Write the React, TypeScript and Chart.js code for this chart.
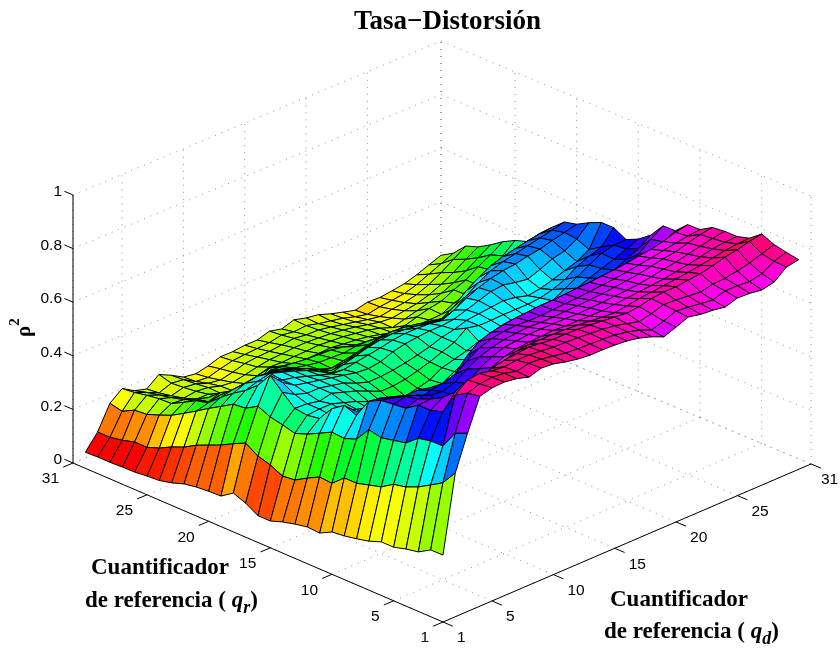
import React, { useEffect, useRef } from "react";
import { Chart, registerables } from "chart.js";

Chart.register(...registerables);

// rho^2: one list per q_r, values for q_d = 1..30
const qr1 = [.25,.536,.665,.783,.795,.797,.79,.776,.79,.786,.774,.765,.76,.76,.758,.754,.745,.73,.71,.727,.745,.735,.731,.723,.737,.735,.728,.738,.774,.782];
const qr2 = [.249,.48,.645,.775,.79,.795,.79,.778,.788,.785,.776,.768,.764,.762,.76,.756,.748,.735,.716,.73,.748,.742,.736,.73,.744,.744,.74,.75,.776,.79];
const qr3 = [.222,.452,.578,.748,.785,.79,.78,.775,.78,.78,.775,.77,.768,.766,.762,.758,.752,.74,.728,.738,.752,.75,.745,.74,.75,.752,.76,.77,.785,.8];
const qr4 = [.213,.425,.577,.665,.72,.73,.735,.75,.76,.765,.77,.765,.76,.76,.758,.755,.75,.745,.74,.745,.755,.76,.76,.765,.77,.78,.792,.8,.812,.82];
const qr5 = [.2,.405,.567,.652,.68,.675,.67,.68,.7,.72,.735,.74,.74,.74,.738,.735,.73,.725,.722,.728,.736,.74,.745,.75,.755,.762,.77,.778,.783,.785];
const qr6 = [.2,.395,.53,.651,.655,.63,.62,.63,.65,.675,.695,.705,.71,.712,.715,.712,.712,.71,.71,.714,.718,.722,.726,.73,.738,.745,.755,.765,.77,.772];
const qr7 = [.183,.366,.52,.62,.635,.6,.575,.585,.615,.65,.675,.69,.695,.7,.7,.7,.7,.698,.7,.702,.705,.708,.712,.72,.728,.735,.745,.755,.765,.772];
const qr8 = [.172,.353,.51,.615,.625,.61,.59,.585,.6,.63,.655,.67,.68,.685,.688,.686,.686,.688,.69,.692,.695,.7,.705,.71,.72,.728,.735,.748,.76,.767];
const qr9 = [.163,.34,.52,.61,.6,.585,.55,.57,.575,.59,.62,.65,.665,.672,.675,.672,.672,.675,.678,.68,.684,.688,.692,.698,.705,.712,.72,.728,.735,.74];
const qr10 = [.158,.34,.465,.587,.58,.565,.55,.55,.54,.53,.55,.6,.635,.65,.66,.665,.668,.672,.672,.675,.678,.68,.684,.688,.692,.7,.705,.715,.73,.739];
const qr11 = [.134,.3,.448,.515,.525,.5,.48,.46,.44,.43,.44,.47,.52,.55,.57,.58,.585,.59,.595,.598,.6,.605,.61,.615,.622,.63,.64,.655,.675,.697];
const qr12 = [.137,.304,.452,.532,.49,.46,.44,.42,.4,.385,.38,.39,.41,.45,.48,.495,.505,.51,.515,.52,.525,.53,.54,.55,.565,.58,.6,.63,.665,.696];
const qr13 = [.128,.28,.428,.5,.455,.425,.405,.388,.372,.358,.35,.352,.36,.38,.41,.44,.465,.48,.49,.494,.5,.51,.522,.535,.548,.558,.57,.59,.612,.642];
const qr14 = [.116,.253,.405,.444,.435,.43,.42,.405,.385,.362,.355,.362,.372,.38,.405,.43,.45,.46,.465,.468,.466,.47,.482,.5,.522,.54,.556,.572,.59,.608];
const qr15 = [.1,.248,.388,.436,.44,.44,.425,.41,.39,.37,.35,.352,.362,.374,.4,.412,.424,.44,.45,.452,.45,.452,.46,.475,.5,.525,.55,.574,.585,.587];
const qr16 = [.1,.27,.4,.442,.44,.43,.44,.425,.41,.39,.37,.37,.376,.388,.402,.42,.436,.47,.46,.46,.462,.462,.462,.466,.478,.496,.525,.545,.56,.612];
const qr17 = [.127,.283,.41,.482,.455,.44,.44,.43,.42,.40,.385,.386,.39,.398,.408,.42,.436,.445,.46,.465,.47,.475,.468,.455,.462,.475,.49,.505,.53,.612];
const qr18 = [.145,.312,.43,.526,.48,.45,.44,.43,.42,.41,.40,.396,.402,.42,.43,.436,.44,.44,.445,.46,.475,.49,.495,.485,.478,.495,.515,.525,.55,.592];
const qr19 = [.114,.29,.403,.469,.47,.45,.44,.425,.41,.395,.392,.4,.408,.415,.425,.43,.43,.428,.42,.44,.465,.485,.5,.51,.515,.525,.532,.545,.555,.567];
const qr20 = [.112,.265,.398,.43,.445,.455,.44,.425,.408,.385,.36,.372,.385,.398,.406,.41,.406,.4,.392,.385,.4,.435,.465,.49,.505,.515,.525,.535,.545,.556];
const qr21 = [.108,.245,.37,.4,.418,.425,.42,.405,.392,.376,.352,.33,.34,.352,.364,.374,.38,.376,.368,.358,.35,.375,.415,.445,.47,.485,.495,.505,.512,.517];
const qr22 = [.1,.225,.343,.365,.375,.38,.378,.38,.372,.355,.335,.315,.3,.308,.318,.33,.338,.34,.328,.32,.316,.31,.322,.345,.365,.39,.415,.44,.46,.475];
const qr23 = [.084,.198,.313,.325,.335,.33,.322,.336,.345,.335,.32,.31,.302,.3,.298,.304,.304,.302,.3,.292,.282,.272,.265,.29,.312,.33,.35,.372,.398,.425];
const qr24 = [.073,.179,.285,.313,.29,.305,.278,.252,.28,.31,.305,.3,.295,.292,.29,.282,.27,.262,.256,.25,.246,.246,.248,.25,.272,.285,.3,.338,.372,.41];
const qr25 = [.07,.155,.258,.287,.28,.266,.25,.228,.224,.25,.28,.268,.258,.256,.258,.26,.254,.25,.243,.232,.22,.226,.24,.252,.26,.283,.301,.331,.356,.386];
const qr26 = [.065,.138,.239,.263,.258,.24,.24,.224,.214,.222,.232,.245,.243,.246,.247,.25,.246,.243,.236,.229,.217,.2,.212,.224,.236,.251,.271,.296,.326,.355];
const qr27 = [.064,.138,.222,.261,.246,.225,.231,.226,.212,.207,.216,.226,.234,.236,.24,.241,.238,.235,.229,.221,.211,.201,.197,.205,.212,.226,.246,.271,.301,.328];
const qr28 = [.062,.125,.218,.254,.236,.214,.226,.22,.203,.196,.206,.219,.224,.226,.231,.236,.23,.229,.221,.211,.201,.191,.183,.191,.197,.207,.226,.251,.281,.312];
const qr29 = [.062,.116,.194,.245,.226,.205,.222,.216,.19,.186,.199,.21,.214,.217,.22,.229,.222,.226,.214,.205,.196,.182,.172,.181,.186,.192,.206,.226,.246,.266];
const qr30 = [.06,.116,.204,.24,.213,.2,.235,.213,.187,.18,.19,.205,.205,.21,.21,.224,.213,.228,.216,.209,.193,.18,.168,.179,.177,.183,.19,.204,.222,.239];

const surface = [qr1,qr2,qr3,qr4,qr5,qr6,qr7,qr8,qr9,qr10,qr11,qr12,qr13,qr14,qr15,qr16,qr17,qr18,qr19,qr20,qr21,qr22,qr23,qr24,qr25,qr26,qr27,qr28,qr29,qr30];

const qTicks = [1, 5, 10, 15, 20, 25, 31];
const rhoTicks = [0, 0.2, 0.4, 0.6, 0.8, 1];
const rhoTickLabels = ["0", "0.2", "0.4", "0.6", "0.8", "1"];
const chartTitle = "Tasa\u2212Distorsi\u00f3n";

const SANS = "'Liberation Sans', Arial, sans-serif";
const SERIF = "'Liberation Serif', 'Times New Roman', serif";
const RHO_MIN = 0.06;
const RHO_MAX = 0.84;

// Fixed orthographic view of the box (q_r, q_d, rho^2) on to the chart's x/y scales.
function project(qr: number, qd: number, rho: number) {
  const u = (qr - 1) / 30;
  const v = (qd - 1) / 30;
  return {
    x: 443 - 370 * u + 368 * v,
    y: 622 - 159 * u - 158 * v + 4 * u * v - 268 * rho,
  };
}

function hsvColour(rho: number) {
  const t = Math.min(1, Math.max(0, (rho - RHO_MIN) / (RHO_MAX - RHO_MIN)));
  return `hsl(${Math.round(t * 63) * (360 / 64)}, 100%, 50%)`;
}

function lineSet(points: { x: number; y: number }[], colour: string, width: number, dash: number[] = []) {
  return {
    data: points,
    showLine: true,
    pointRadius: 0,
    borderColor: colour,
    borderWidth: width,
    borderDash: dash,
    fill: false,
    clip: false,
    tension: 0,
  } as any;
}

function buildDatasets() {
  const axes: any[] = [];
  axes.push(lineSet([project(31, 1, 0), project(1, 1, 0)], "#000", 1));
  axes.push(lineSet([project(1, 1, 0), project(1, 31, 0)], "#000", 1));
  axes.push(lineSet([project(31, 1, 0), project(31, 1, 1)], "#000", 1));
  for (const q of qTicks) {
    axes.push(lineSet([project(q, 1, 0), project(q, 0.2, 0)], "#000", 1));
    axes.push(lineSet([project(1, q, 0), project(0.2, q, 0)], "#000", 1));
  }
  for (const rho of rhoTicks) {
    axes.push(lineSet([project(31, 1, rho), project(31.7, 1, rho)], "#000", 1));
  }

  const faces: any[] = [];
  // nearest faces first: Chart.js paints the datasets from last to first
  for (let r = 0; r < surface.length - 1; r++) {
    for (let d = 0; d < surface[r].length - 1; d++) {
      const pts = [
        project(r + 1, d + 1, surface[r][d]),
        project(r + 2, d + 1, surface[r + 1][d]),
        project(r + 2, d + 2, surface[r + 1][d + 1]),
        project(r + 1, d + 2, surface[r][d + 1]),
        project(r + 1, d + 1, surface[r][d]),
      ];
      const ds = lineSet(pts, "#000", 1);
      ds.faceColour = hsvColour(surface[r][d]);
      faces.push(ds);
    }
  }

  const grid: any[] = [];
  const dotted = (a: any, b: any) => grid.push(lineSet([a, b], "#666", 0.7, [1, 6]));
  for (const q of qTicks) {
    dotted(project(q, 1, 0), project(q, 31, 0));
    dotted(project(1, q, 0), project(31, q, 0));
    dotted(project(31, q, 0), project(31, q, 1));
    dotted(project(q, 31, 0), project(q, 31, 1));
  }
  for (const rho of rhoTicks) {
    dotted(project(31, 1, rho), project(31, 31, rho));
    dotted(project(31, 31, rho), project(1, 31, rho));
  }
  return [...axes, ...faces, ...grid];
}

const facePlugin = {
  id: "faceFill",
  beforeDatasetDraw(chart: any, args: any) {
    const ds = chart.data.datasets[args.index];
    if (!ds.faceColour) return;
    const pts = args.meta.data;
    const ctx = chart.ctx;
    ctx.save();
    ctx.beginPath();
    pts.forEach((p: any, i: number) => (i ? ctx.lineTo(p.x, p.y) : ctx.moveTo(p.x, p.y)));
    ctx.closePath();
    ctx.fillStyle = ds.faceColour;
    ctx.fill();
    ctx.restore();
  },
};

function runs(ctx: CanvasRenderingContext2D, x: number, y: number, parts: [string, string, number][]) {
  let cx = x;
  for (const [text, font, dy] of parts) {
    ctx.font = font;
    ctx.fillText(text, cx, y + dy);
    cx += ctx.measureText(text).width;
  }
}

const textPlugin = {
  id: "boxText",
  afterDraw(chart: any) {
    const ctx: CanvasRenderingContext2D = chart.ctx;
    const sx = chart.scales.x;
    const sy = chart.scales.y;
    ctx.save();
    ctx.fillStyle = "#000";
    ctx.textBaseline = "middle";
    ctx.font = `15.5px ${SANS}`;
    for (const q of qTicks) {
      const a = project(q, 1, 0);
      ctx.textAlign = "right";
      ctx.fillText(String(q), sx.getPixelForValue(a.x) - 14, sy.getPixelForValue(a.y) + 16);
      const b = project(1, q, 0);
      ctx.textAlign = "left";
      ctx.fillText(String(q), sx.getPixelForValue(b.x) + (q === 31 ? 10 : 14), sy.getPixelForValue(b.y) + 16);
    }
    ctx.textAlign = "right";
    rhoTicks.forEach((rho, i) => {
      const p = project(31, 1, rho);
      ctx.fillText(rhoTickLabels[i], sx.getPixelForValue(p.x) - 11, sy.getPixelForValue(p.y) - 3);
    });

    ctx.textAlign = "left";
    const bold = `bold 23px ${SERIF}`;
    const boldIt = `italic bold 23px ${SERIF}`;
    const sub = `italic bold 18px ${SERIF}`;
    runs(ctx, 91, 568, [["Cuantificador", bold, 0]]);
    runs(ctx, 85, 601, [["de referencia ( ", bold, 0], ["q", boldIt, 0], ["r", sub, 7], [")", bold, 0]]);
    runs(ctx, 610, 600, [["Cuantificador", bold, 0]]);
    runs(ctx, 604, 632, [["de referencia ( ", bold, 0], ["q", boldIt, 0], ["d", sub, 7], [")", bold, 0]]);

    ctx.translate(30, 337);
    ctx.rotate(-Math.PI / 2);
    ctx.textAlign = "left";
    ctx.textBaseline = "alphabetic";
    runs(ctx, 0, 0, [["\u03c1", `bold 21px ${SERIF}`, 0], ["2", `bold 15px ${SERIF}`, -11]]);
    ctx.restore();
  },
};

export default function App() {
  const ref = useRef<HTMLCanvasElement | null>(null);
  useEffect(() => {
    if (!ref.current) return;
    const chart = new Chart(ref.current, {
      type: "scatter",
      data: { datasets: buildDatasets() },
      plugins: [facePlugin, textPlugin],
      options: {
        responsive: false,
        animation: false,
        events: [],
        layout: { padding: { left: 55 } },
        scales: {
          x: { type: "linear", display: false, min: 55, max: 840 },
          y: { type: "linear", display: false, reverse: true, min: 38.4, max: 652 },
        },
        plugins: {
          legend: { display: false },
          tooltip: { enabled: false },
          title: {
            display: true,
            text: chartTitle,
            fullSize: false,
            color: "#000",
            padding: { top: 6, bottom: 0 },
            font: { family: SERIF, size: 27, weight: "bold", lineHeight: 1.2 },
          },
        },
      },
    } as any);
    return () => chart.destroy();
  }, []);
  return (
    <div style={{ position: "fixed", left: 0, top: 0, width: 840, height: 652, background: "#fff" }}>
      <canvas ref={ref} width={840} height={652} style={{ display: "block" }} />
    </div>
  );
}
